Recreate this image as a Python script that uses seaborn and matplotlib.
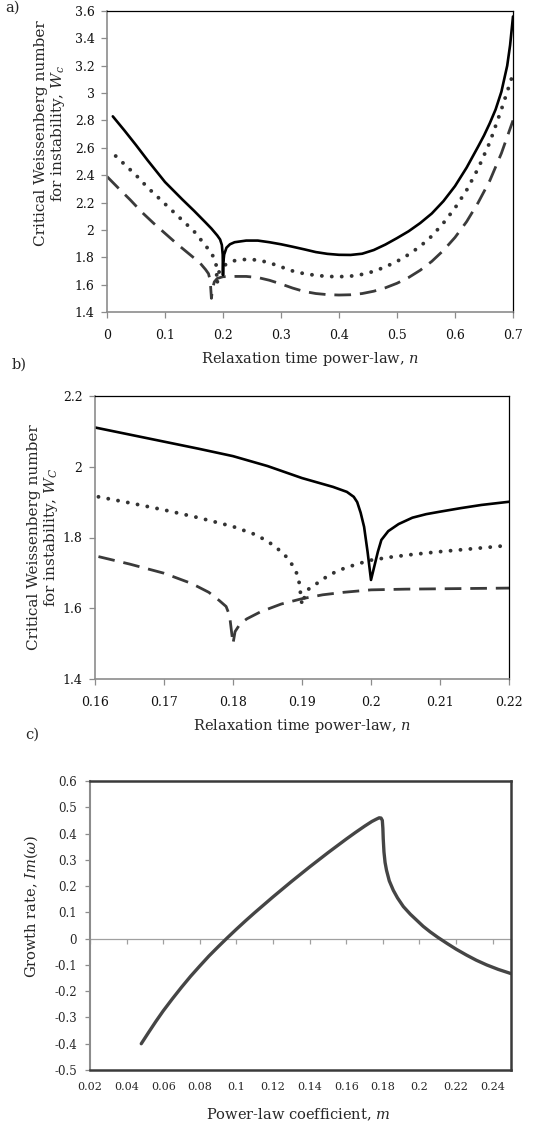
import numpy as np
import pandas as pd
import matplotlib
matplotlib.use("Agg")
import matplotlib.pyplot as plt
from matplotlib.ticker import FixedLocator, FuncFormatter
import seaborn as sns

# ---------------- data ----------------
# Panel a
a_solid_x = [0.01, 0.03, 0.05, 0.07, 0.10, 0.13, 0.15, 0.17, 0.18, 0.19, 0.195, 0.198, 0.1995, 0.2, 0.2005,
             0.202, 0.206, 0.212, 0.22, 0.24, 0.26, 0.28, 0.30, 0.32, 0.34, 0.36, 0.38, 0.40, 0.42, 0.44,
             0.46, 0.48, 0.50, 0.52, 0.54, 0.56, 0.58, 0.60, 0.62, 0.64, 0.65, 0.66, 0.67, 0.68, 0.69,
             0.695, 0.70]
a_solid_y = [2.83, 2.727, 2.62, 2.509, 2.35, 2.222, 2.14, 2.054, 2.01, 1.96, 1.93, 1.89, 1.82, 1.67, 1.76,
             1.82, 1.87, 1.895, 1.91, 1.922, 1.922, 1.91, 1.895, 1.877, 1.858, 1.838, 1.825, 1.818, 1.817, 1.826,
             1.853, 1.893, 1.94, 1.99, 2.05, 2.12, 2.21, 2.32, 2.455, 2.61, 2.69, 2.78, 2.88, 3.01, 3.2,
             3.35, 3.56]

a_dot_x = [0.015, 0.03, 0.05, 0.07, 0.10, 0.13, 0.15, 0.17, 0.18, 0.185, 0.188, 0.19, 0.192, 0.195, 0.2,
           0.21, 0.22, 0.24, 0.26, 0.28, 0.30, 0.32, 0.34, 0.36, 0.38, 0.40, 0.42, 0.44, 0.46, 0.48,
           0.50, 0.52, 0.54, 0.56, 0.58, 0.60, 0.62, 0.64, 0.66, 0.68, 0.70]
a_dot_y = [2.54, 2.48, 2.40, 2.31, 2.19, 2.07, 1.99, 1.885, 1.83, 1.79, 1.75, 1.61, 1.68, 1.71, 1.735,
           1.76, 1.775, 1.785, 1.78, 1.76, 1.73, 1.70, 1.68, 1.668, 1.66, 1.658, 1.662, 1.675, 1.697, 1.73,
           1.77, 1.82, 1.88, 1.955, 2.05, 2.16, 2.29, 2.45, 2.64, 2.88, 3.14]

a_dash_x = [0.0, 0.02, 0.04, 0.06, 0.08, 0.10, 0.12, 0.14, 0.16, 0.17, 0.175, 0.178, 0.18, 0.182, 0.185,
            0.19, 0.2, 0.22, 0.24, 0.26, 0.28, 0.30, 0.32, 0.34, 0.36, 0.38, 0.40, 0.42, 0.44, 0.46,
            0.48, 0.50, 0.52, 0.54, 0.56, 0.58, 0.60, 0.62, 0.64, 0.66, 0.68, 0.70]
a_dash_y = [2.39, 2.304, 2.22, 2.13, 2.05, 1.975, 1.90, 1.83, 1.76, 1.71, 1.68, 1.63, 1.50, 1.57, 1.62,
            1.645, 1.658, 1.66, 1.66, 1.652, 1.632, 1.605, 1.575, 1.55, 1.535, 1.527, 1.524, 1.526, 1.535, 1.552,
            1.577, 1.61, 1.652, 1.705, 1.77, 1.85, 1.945, 2.06, 2.2, 2.36, 2.56, 2.80]

# Panel b
b_solid_x = [0.16, 0.165, 0.17, 0.175, 0.18, 0.185, 0.19, 0.1945, 0.1965, 0.1975, 0.198, 0.1985, 0.199,
             0.1995, 0.2, 0.2005, 0.201, 0.2015, 0.2025, 0.204, 0.206, 0.208, 0.21, 0.213, 0.216, 0.22]
b_solid_y = [2.111, 2.091, 2.071, 2.051, 2.03, 2.002, 1.968, 1.943, 1.929, 1.915, 1.90, 1.87, 1.83,
             1.76, 1.68, 1.72, 1.76, 1.793, 1.818, 1.838, 1.856, 1.866, 1.873, 1.883, 1.892, 1.901]

b_dot_x = [0.1605, 0.165, 0.17, 0.175, 0.18, 0.183, 0.185, 0.187, 0.188, 0.189, 0.1895, 0.19, 0.1905,
           0.191, 0.192, 0.194, 0.196, 0.198, 0.2, 0.203, 0.206, 0.21, 0.214, 0.218, 0.22]
b_dot_y = [1.915, 1.898, 1.878, 1.856, 1.831, 1.81, 1.79, 1.76, 1.74, 1.71, 1.685, 1.61, 1.64,
           1.655, 1.668, 1.695, 1.712, 1.725, 1.736, 1.745, 1.752, 1.76, 1.767, 1.774, 1.778]

b_dash_x = [0.1605, 0.165, 0.17, 0.174, 0.1765, 0.178, 0.179, 0.1795, 0.18, 0.1803, 0.181, 0.182, 0.184,
            0.187, 0.19, 0.193, 0.196, 0.2, 0.205, 0.21, 0.215, 0.22]
b_dash_y = [1.746, 1.725, 1.699, 1.67, 1.645, 1.622, 1.605, 1.58, 1.50, 1.534, 1.555, 1.57, 1.59,
            1.612, 1.627, 1.638, 1.645, 1.652, 1.654, 1.655, 1.656, 1.657]

# Panel c
c_x = [0.048, 0.052, 0.056, 0.06, 0.065, 0.07, 0.075, 0.08, 0.085, 0.09, 0.095, 0.10, 0.105, 0.11, 0.12,
       0.13, 0.14, 0.15, 0.16, 0.165, 0.17, 0.174, 0.1765, 0.178, 0.179, 0.1797, 0.18, 0.1802, 0.1806,
       0.1812, 0.182, 0.1835, 0.1857, 0.188, 0.1912, 0.195, 0.1985, 0.202, 0.2058, 0.21, 0.215, 0.22,
       0.2258, 0.231, 0.2367, 0.243, 0.25]
c_y = [-0.40, -0.357, -0.315, -0.275, -0.229, -0.185, -0.143, -0.104, -0.066, -0.031, 0.003, 0.036, 0.068,
       0.099, 0.159, 0.217, 0.273, 0.327, 0.379, 0.404, 0.428, 0.446, 0.455, 0.46, 0.459, 0.45, 0.42,
       0.38, 0.33, 0.29, 0.26, 0.22, 0.184, 0.155, 0.122, 0.093, 0.07, 0.047, 0.026, 0.005, -0.018,
       -0.04, -0.063, -0.082, -0.1, -0.117, -0.133]

a_xticks = [0, 0.1, 0.2, 0.3, 0.4, 0.5, 0.6, 0.7]
a_yticks = [1.4, 1.6, 1.8, 2.0, 2.2, 2.4, 2.6, 2.8, 3.0, 3.2, 3.4, 3.6]
b_xticks = [0.16, 0.17, 0.18, 0.19, 0.20, 0.21, 0.22]
b_yticks = [1.4, 1.6, 1.8, 2.0, 2.2]
c_xticks = [0.02, 0.04, 0.06, 0.08, 0.10, 0.12, 0.14, 0.16, 0.18, 0.20, 0.22, 0.24]
c_yticks = [-0.5, -0.4, -0.3, -0.2, -0.1, 0.0, 0.1, 0.2, 0.3, 0.4, 0.5, 0.6]

# ---------------- style ----------------
sns.set_theme(style="white")
plt.rcParams["font.family"] = ["DejaVu Serif"]
plt.rcParams["mathtext.fontset"] = "dejavuserif"

W, H = 535, 1128
fig = plt.figure(figsize=(W / 100, H / 100), dpi=100)
fig.patch.set_facecolor("white")


def fmt(v, p):
    v = round(v, 6)
    if abs(v) < 1e-9:
        return "0"
    return ("%.2f" % v).rstrip("0").rstrip(".")


def box(l, t, r, b):
    return [l / W, 1 - b / H, (r - l) / W, (b - t) / H]


GRAY_AX = "#8c8c8c"
DARK = "#3a3a3a"


def style_ab(ax, xt, yt, xlim, ylim, fs):
    ax.set_xlim(*xlim)
    ax.set_ylim(*ylim)
    ax.xaxis.set_major_locator(FixedLocator(xt))
    ax.yaxis.set_major_locator(FixedLocator(yt))
    ax.xaxis.set_major_formatter(FuncFormatter(fmt))
    ax.yaxis.set_major_formatter(FuncFormatter(fmt))
    for s in ["left", "bottom"]:
        ax.spines[s].set_color(GRAY_AX)
        ax.spines[s].set_linewidth(1.2)
    for s in ["top", "right"]:
        ax.spines[s].set_color("black")
        ax.spines[s].set_linewidth(0.9)
    ax.tick_params(axis="both", direction="out", length=4, width=0.9, color=GRAY_AX,
                   labelsize=fs, labelcolor="#111111", bottom=True, left=True, pad=5)
    ax.tick_params(axis="x", pad=8)
    ax.set_facecolor("white")


def plot3(ax, sx, sy, dx, dy, ex, ey):
    sns.lineplot(x=ex, y=ey, ax=ax, color="#3a3a3a", linewidth=2.0, sort=False, estimator=None,
                 linestyle=(0, (6.0, 3.2)))
    sns.lineplot(x=dx, y=dy, ax=ax, color="#333333", linewidth=2.8, sort=False, estimator=None,
                 linestyle=(0, (0.01, 2.55)), dash_capstyle="round")
    sns.lineplot(x=sx, y=sy, ax=ax, color="black", linewidth=1.9, sort=False, estimator=None,
                 solid_joinstyle="round")


# ---- panel a ----
axa = fig.add_axes(box(107, 11, 513, 312))
plot3(axa, a_solid_x, a_solid_y, a_dot_x, a_dot_y, a_dash_x, a_dash_y)
style_ab(axa, a_xticks, a_yticks, (0, 0.7), (1.4, 3.6), 9)
axa.set_xlabel("Relaxation time power-law, $n$", fontsize=10.5)
axa.set_ylabel("Critical Weissenberg number\nfor instability, $W_c$", fontsize=11, linespacing=1.1)
axa.xaxis.set_label_coords(0.5, -0.125)
axa.yaxis.set_label_coords(-0.098, 0.593)

# ---- panel b ----
axb = fig.add_axes(box(95, 396, 509, 679))
plot3(axb, b_solid_x, b_solid_y, b_dot_x, b_dot_y, b_dash_x, b_dash_y)
style_ab(axb, b_xticks, b_yticks, (0.16, 0.22), (1.4, 2.2), 9)
axb.set_xlabel("Relaxation time power-law, $n$", fontsize=10.5)
axb.set_ylabel("Critical Weissenberg number\nfor instability, $W_C$", fontsize=11, linespacing=1.1)
axb.xaxis.set_label_coords(0.5, -0.135)
axb.yaxis.set_label_coords(-0.085, 0.5)

# ---- panel c ----
axc = fig.add_axes(box(90, 781, 511, 1070))
sns.lineplot(x=c_x, y=c_y, ax=axc, color="#454545", linewidth=2.4, sort=False, estimator=None,
             solid_capstyle="round", solid_joinstyle="round")
axc.set_xlim(0.02, 0.25)
axc.set_ylim(-0.5, 0.6)
axc.xaxis.set_major_locator(FixedLocator(c_xticks))
axc.yaxis.set_major_locator(FixedLocator(c_yticks))
axc.xaxis.set_major_formatter(FuncFormatter(fmt))
axc.yaxis.set_major_formatter(FuncFormatter(fmt))
for s in ["top", "right", "bottom"]:
    axc.spines[s].set_color(DARK)
    axc.spines[s].set_linewidth(1.8)
axc.spines["left"].set_color(GRAY_AX)
axc.spines["left"].set_linewidth(1.5)
axc.tick_params(axis="y", direction="out", length=3.5, width=0.9, color=GRAY_AX, labelsize=8.5,
                left=True, pad=6)
axc.tick_params(axis="x", length=0, labelsize=8, pad=9, bottom=True)
# zero line with downward tick marks (Excel-style horizontal axis crossing at 0)
zero_frac = (0 - (-0.5)) / (0.6 - (-0.5))
sec = axc.secondary_xaxis(zero_frac)
sec.xaxis.set_major_locator(FixedLocator(c_xticks))
sec.set_xticklabels([])
sec.spines["bottom"].set_color("#a0a0a0")
sec.spines["bottom"].set_linewidth(0.9)
sec.tick_params(axis="x", direction="out", length=3.5, width=0.9, color="#a0a0a0", labelbottom=False)
axc.set_xlabel("Power-law coefficient, $m$", fontsize=10.5)
axc.set_ylabel("Growth rate, $Im(\\omega)$", fontsize=10.5)
axc.xaxis.set_label_coords(0.494, -0.125)
axc.yaxis.set_label_coords(-0.119, 0.567)

# panel letters
fig.text(5 / W, 1 - 8 / H, "a)", fontsize=10.5, va="center", ha="left")
fig.text(12 / W, 1 - 365 / H, "b)", fontsize=10.5, va="center", ha="left")
fig.text(25 / W, 1 - 735 / H, "c)", fontsize=10.5, va="center", ha="left")

fig.savefig("out.png", dpi=100, facecolor="white")
